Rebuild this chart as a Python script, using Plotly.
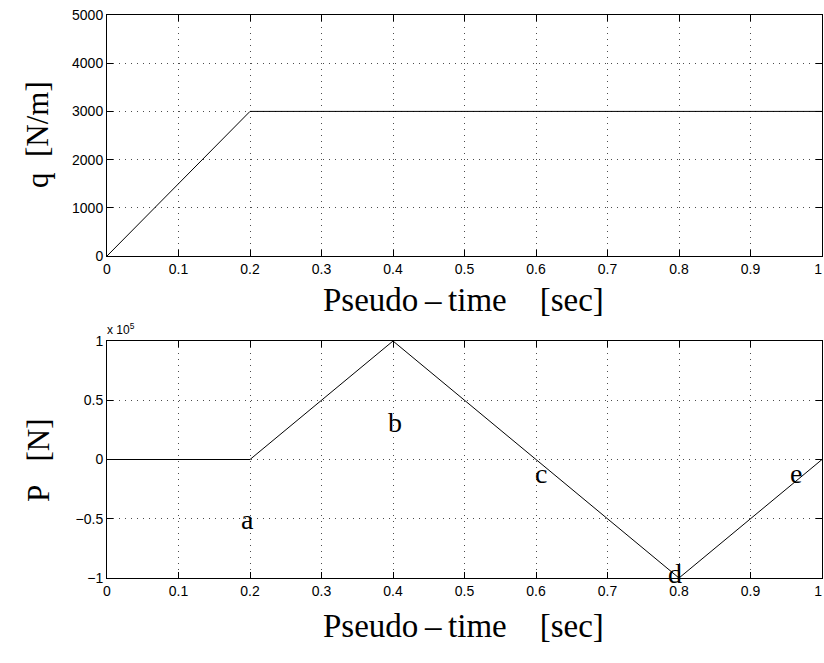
import plotly.graph_objects as go

t_q = [0, 0.2, 1.0]
q_vals = [0, 3000, 3000]
t_p = [0, 0.2, 0.4, 0.8, 1.0]
p_vals = [0, 0, 1e5, -1e5, 0]

x_ticks = [0, 0.1, 0.2, 0.3, 0.4, 0.5, 0.6, 0.7, 0.8, 0.9, 1]
x_ticktext = ["0", "0.1", "0.2", "0.3", "0.4", "0.5", "0.6", "0.7", "0.8", "0.9", "1\u00a0\u00a0"]
q_ticks = [0, 1000, 2000, 3000, 4000, 5000]
p_ticks = [-1e5, -0.5e5, 0, 0.5e5, 1e5]
p_ticktext = ["\u22121", "\u22120.5", "0", "0.5", "1"]

labels = ["a", "b", "c", "d", "e"]
label_x = [0.197, 0.403, 0.607, 0.795, 0.963]
label_y = [-0.51e5, 0.31e5, -0.12e5, -0.96e5, -0.12e5]

W, H = 824, 663
x0, x1 = 107 / W, 822 / W
top_dom = [1 - 256 / H, 1 - 15 / H]
bot_dom = [1 - 578 / H, 1 - 341 / H]

fig = go.Figure()
fig.add_trace(go.Scatter(x=t_q, y=q_vals, mode="lines", line=dict(color="black", width=1),
                         xaxis="x", yaxis="y", showlegend=False))
fig.add_trace(go.Scatter(x=t_p, y=p_vals, mode="lines", line=dict(color="black", width=1),
                         xaxis="x2", yaxis="y2", showlegend=False))

tickfont = dict(family="Liberation Sans, Arial", size=14, color="black")
common = dict(showline=True, linecolor="black", linewidth=1, mirror="allticks",
              ticks="inside", ticklen=6, tickcolor="black",
              showgrid=True, gridcolor="rgba(0,0,0,0.7)", griddash="1px,5px", gridwidth=1,
              zeroline=False, tickfont=tickfont, ticklabeloverflow="allow", automargin=False)

fig.update_layout(
    width=W, height=H, autosize=False,
    margin=dict(l=0, r=0, t=0, b=0, pad=0),
    paper_bgcolor="white", plot_bgcolor="white",
    xaxis=dict(domain=[x0, x1], anchor="y", range=[0, 1], tickvals=x_ticks, ticktext=x_ticktext, **common),
    yaxis=dict(domain=top_dom, anchor="x", range=[0, 5000], tickvals=q_ticks, **common),
    xaxis2=dict(domain=[x0, x1], anchor="y2", range=[0, 1], tickvals=x_ticks, ticktext=x_ticktext, **common),
    yaxis2=dict(domain=bot_dom, anchor="x2", range=[-1e5, 1e5], tickvals=p_ticks, ticktext=p_ticktext, **common),
)

serif = dict(family="Liberation Serif, Times New Roman", size=31, color="black")
serif_x = dict(family="Liberation Serif, Times New Roman", size=33, color="black")
xtitle = "Pseudo\u2009\u2013\u2009time&nbsp;&nbsp;&nbsp;&nbsp;[sec]"
ann = [
    dict(text=xtitle, x=463 / W, y=1 - 300 / H,
         xref="paper", yref="paper", showarrow=False, font=serif_x, xanchor="center", yanchor="middle"),
    dict(text=xtitle, x=463 / W, y=1 - 626 / H,
         xref="paper", yref="paper", showarrow=False, font=serif_x, xanchor="center", yanchor="middle"),
    dict(text="q&nbsp;&nbsp;[N/m]", x=38 / W, y=1 - 135 / H, xref="paper", yref="paper",
         showarrow=False, font=serif, textangle=-90, xanchor="center", yanchor="middle"),
    dict(text="P&nbsp;&nbsp;&nbsp;[N]", x=38 / W, y=1 - 460 / H, xref="paper", yref="paper",
         showarrow=False, font=serif, textangle=-90, xanchor="center", yanchor="middle"),
    dict(text="x 10<sup>5</sup>", x=105 / W, y=1 - 339 / H, xref="paper", yref="paper",
         showarrow=False, font=dict(family="Liberation Sans, Arial", size=12, color="black"),
         xanchor="left", yanchor="bottom"),
]
for lab, lx, ly in zip(labels, label_x, label_y):
    ann.append(dict(text=lab, x=lx, y=ly, xref="x2", yref="y2", showarrow=False,
                    font=dict(family="Liberation Serif, Times New Roman", size=28, color="black"),
                    xanchor="center", yanchor="middle"))
fig.update_layout(annotations=ann)

post = (
    "document.documentElement.style.margin='0';"
    "document.documentElement.style.overflow='hidden';"
    "document.body.style.margin='0';document.body.style.overflow='hidden';"
    "var gd=document.getElementById('{plot_id}');"
    "gd.style.position='fixed';gd.style.left='0px';gd.style.top='0px';"
)
fig.write_html("out.html", config={"displayModeBar": False, "responsive": False}, post_script=post)
